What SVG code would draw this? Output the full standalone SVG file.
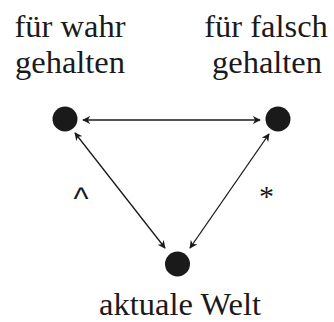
<svg xmlns="http://www.w3.org/2000/svg" width="334" height="322" viewBox="0 0 334 322">
<defs>
<style>
.t{font-family:"Liberation Serif","Times New Roman",serif;font-size:32.5px;fill:#1a1a1a;text-anchor:middle}
.s{font-family:"Liberation Sans",Arial,sans-serif;font-size:32px;fill:#1a1a1a;text-anchor:middle}
.st{font-family:"Liberation Serif","Times New Roman",serif;font-size:30px;fill:#1a1a1a;text-anchor:middle}
.n{fill:#1a1a1a}
.c{stroke:#1a1a1a;stroke-width:1.3;fill:none;marker-start:url(#a);marker-end:url(#a)}
</style>
<marker id="a" viewBox="0 0 10 10" refX="9" refY="5" markerWidth="8" markerHeight="8" markerUnits="userSpaceOnUse" orient="auto-start-reverse">
<path d="M0,0 L10,5 L0,10 L3,5 Z" fill="#1a1a1a"/>
</marker>
</defs>
<rect width="334" height="322" fill="#fff"/>
<g id="connectors">
<line class="c" x1="83" y1="120" x2="260" y2="120"/>
<line class="c" x1="75" y1="133" x2="165" y2="248"/>
<line class="c" x1="269" y1="134" x2="190" y2="248"/>
</g>
<g id="node-wahr">
<circle class="n" cx="65" cy="119" r="12.5"/>
<text class="t" x="70" y="37">für wahr</text>
<text class="t" x="70" y="73">gehalten</text>
</g>
<g id="node-falsch">
<circle class="n" cx="278" cy="119" r="12.5"/>
<text class="t" x="266" y="37">für falsch</text>
<text class="t" x="267" y="73">gehalten</text>
</g>
<g id="node-welt">
<circle class="n" cx="177.5" cy="264" r="12.5"/>
<text class="t" x="180" y="315">aktuale Welt</text>
</g>
<g id="labels">
<text class="s" x="81" y="209">^</text>
<text class="st" x="266.5" y="206">*</text>
</g>
</svg>
